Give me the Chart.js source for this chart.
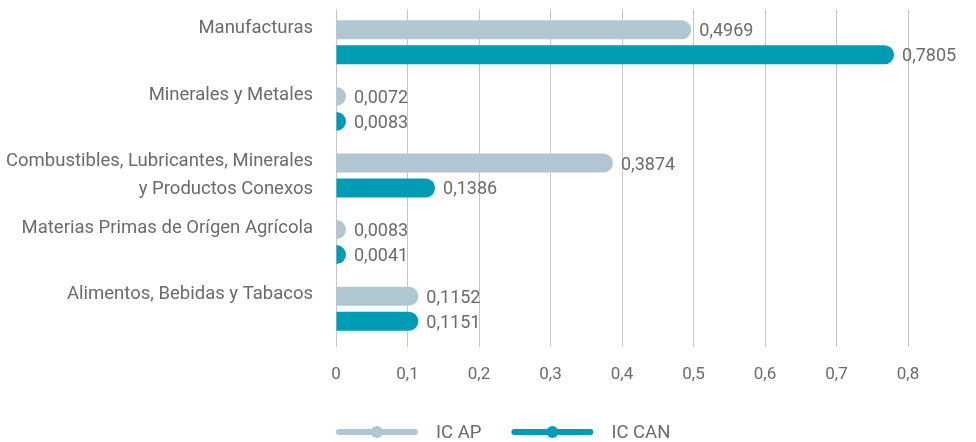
<!DOCTYPE html>
<html>
<head>
<meta charset="utf-8">
<script src="https://cdn.jsdelivr.net/npm/chart.js@4"></script>
<style>
  html, body { margin: 0; padding: 0; background: #fff; }
  #wrap { width: 976px; height: 442px; }
</style>
</head>
<body>
<div id="wrap"><canvas id="myChart"></canvas></div>
<script>
const categories = [
  'Manufacturas',
  'Minerales y Metales',
  ['Combustibles, Lubricantes, Minerales', 'y Productos Conexos'],
  'Materias Primas de Orígen Agrícola',
  'Alimentos, Bebidas y Tabacos'
];
const icAP = [0.4969, 0.0072, 0.3874, 0.0083, 0.1152];
const icCAN = [0.7805, 0.0083, 0.1386, 0.0041, 0.1151];
const seriesNames = ['IC AP', 'IC CAN'];
const seriesColors = ['#b0c7d1', '#009cb6'];
const xTicks = [0, 0.1, 0.2, 0.3, 0.4, 0.5, 0.6, 0.7, 0.8];

const textColor = '#6b6b6b';
const fmt = (v, d) => v === 0 ? '0' : v.toFixed(d).replace('.', ',');

// bars drawn as thick round-capped strokes, plus value labels
const roundBars = {
  id: 'roundBars',
  beforeDatasetsDraw(chart) {
    const ctx = chart.ctx;
    chart.data.datasets.forEach((ds, i) => {
      const meta = chart.getDatasetMeta(i);
      meta.data.forEach((bar, j) => {
        const h = bar.height;
        const r = h / 2;
        const end = Math.max(bar.base, bar.x - r);
        ctx.save();
        ctx.beginPath();
        ctx.rect(bar.base, 0, chart.width, chart.height);
        ctx.clip();
        ctx.beginPath();
        ctx.moveTo(bar.base, bar.y);
        ctx.lineTo(end, bar.y);
        ctx.lineCap = 'round';
        ctx.lineWidth = h;
        ctx.strokeStyle = ds.backgroundColor;
        ctx.stroke();
        ctx.restore();

        ctx.save();
        ctx.font = '18px Roboto';
        ctx.fillStyle = textColor;
        ctx.textAlign = 'left';
        ctx.textBaseline = 'middle';
        ctx.fillText(fmt(ds.data[j], 4), Math.max(bar.x, bar.base + r) + 8, bar.y + 2);
        ctx.restore();
      });
    });
    return false;
  }
};

// legend: line with a dot, then the name
const lineLegend = {
  id: 'lineLegend',
  afterDraw(chart) {
    const ctx = chart.ctx;
    const y = 432;
    let x = chart.chartArea.left;
    ctx.save();
    ctx.font = '18.5px Roboto';
    ctx.textBaseline = 'middle';
    chart.data.datasets.forEach((ds) => {
      ctx.strokeStyle = ds.backgroundColor;
      ctx.fillStyle = ds.backgroundColor;
      ctx.lineWidth = 6;
      ctx.lineCap = 'round';
      ctx.beginPath();
      ctx.moveTo(x + 3, y);
      ctx.lineTo(x + 79, y);
      ctx.stroke();
      ctx.beginPath();
      ctx.arc(x + 41, y, 6, 0, Math.PI * 2);
      ctx.fill();
      ctx.fillStyle = textColor;
      ctx.fillText(ds.label, x + 100, y + 1);
      x += 100 + ctx.measureText(ds.label).width + 30;
    });
    ctx.restore();
  }
};

const ctx = document.getElementById('myChart').getContext('2d');
const myChart = new Chart(ctx, {
  type: 'bar',
  data: {
    labels: categories,
    datasets: [
      { label: seriesNames[0], data: icAP, backgroundColor: seriesColors[0] },
      { label: seriesNames[1], data: icCAN, backgroundColor: seriesColors[1] }
    ]
  },
  options: {
    indexAxis: 'y',
    responsive: true,
    maintainAspectRatio: false,
    animation: false,
    categoryPercentage: 0.75,
    barPercentage: 0.76,
    layout: { padding: { top: 9, right: 68, left: 0, bottom: 0 } },
    plugins: {
      legend: { display: false },
      tooltip: { enabled: false }
    },
    scales: {
      x: {
        min: 0,
        max: 0.8,
        afterBuildTicks: (scale) => { scale.ticks = xTicks.map((v) => ({ value: v })); },
        afterFit: (scale) => {
          scale.height = 100;
          scale.paddingLeft = 0;
          scale.paddingRight = 0;
        },
        grid: { color: '#c6c6c6', lineWidth: 1, tickLength: 5, drawTicks: true },
        border: { display: false },
        ticks: {
          color: textColor,
          font: { family: 'Roboto', size: 17 },
          padding: 18,
          maxRotation: 0,
          callback: (v) => fmt(v, 1)
        }
      },
      y: {
        afterFit: (scale) => {
          scale.width = 336;
          scale.paddingTop = 0;
          scale.paddingBottom = 0;
        },
        grid: { display: false, drawTicks: false },
        border: { display: false },
        ticks: {
          autoSkip: false,
          color: textColor,
          font: { family: 'Roboto', size: 18.5, lineHeight: 1.5 },
          padding: 23,
          callback: function(value) {
            const lab = this.getLabelForValue(value);
            return Array.isArray(lab) ? lab : [lab, ''];
          }
        }
      }
    }
  },
  plugins: [roundBars, lineLegend]
});
</script>
</body>
</html>
